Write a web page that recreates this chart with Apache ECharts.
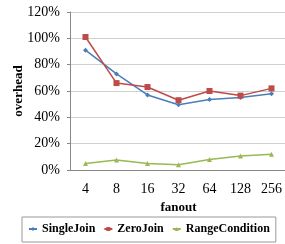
<!DOCTYPE html>
<html>
<head>
<meta charset="utf-8">
<style>html,body{margin:0;padding:0;background:#fff;}</style>
</head>
<body>
<div id="main" style="width:285px;height:244px;"></div>
<script src="https://cdn.jsdelivr.net/npm/echarts@6/dist/echarts.min.js"></script>
<script>
var fanout = ['4', '8', '16', '32', '64', '128', '256'];
var singleJoin = [91, 73, 57, 49.5, 53.5, 55, 58];
var zeroJoin = [101, 66, 63, 53, 60, 56.5, 62];
var rangeCondition = [5, 7.6, 5, 4, 8, 10.6, 12];

var serif = '"Liberation Serif", "DejaVu Serif", serif';
var chart = echarts.init(document.getElementById('main'));

function line(name, data, color, symbol, size) {
  return {
    name: name, type: 'line', data: data,
    symbol: symbol, symbolSize: size,
    itemStyle: { color: color },
    lineStyle: { color: color, width: 1.5 },
    animation: false
  };
}

chart.setOption({
  animation: false,
  grid: { left: 70, right: -2, top: 12, bottom: 74, outerBoundsMode: 'none', containLabel: false },
  legend: {
    top: 217, left: 22,
    itemWidth: 8, itemHeight: 5, itemGap: 8,
    padding: [6, 6, 7, 6],
    borderColor: '#999', borderWidth: 1,
    textStyle: { fontFamily: serif, fontWeight: 'bold', fontSize: 12, color: '#000' },
    data: ['SingleJoin', 'ZeroJoin', 'RangeCondition']
  },
  xAxis: {
    type: 'category', data: fanout,
    name: 'fanout', nameLocation: 'middle', nameGap: 31,
    nameTextStyle: { fontFamily: serif, fontWeight: 'bold', fontSize: 13, color: '#000' },
    axisLine: { lineStyle: { color: '#888' } },
    axisTick: { show: false },
    axisLabel: { fontFamily: serif, fontSize: 14, color: '#000', margin: 12 }
  },
  yAxis: {
    type: 'value', min: 0, max: 120, interval: 20,
    name: 'overhead', nameLocation: 'middle', nameGap: 45, nameMoveOverlap: false,
    nameTextStyle: { fontFamily: serif, fontWeight: 'bold', fontSize: 13, color: '#000' },
    axisLine: { show: true, lineStyle: { color: '#888' } },
    axisTick: { show: true, length: 3, lineStyle: { color: '#888' } },
    splitLine: { lineStyle: { color: '#d0d0d0' } },
    axisLabel: { fontFamily: serif, fontSize: 14, color: '#000', margin: 10, formatter: '{value}%' }
  },
  series: [
    line('SingleJoin', singleJoin, '#4a7ebb', 'diamond', 5),
    line('ZeroJoin', zeroJoin, '#be4b48', 'rect', 6),
    line('RangeCondition', rangeCondition, '#98b954', 'triangle', 5)
  ]
});
</script>
</body>
</html>
